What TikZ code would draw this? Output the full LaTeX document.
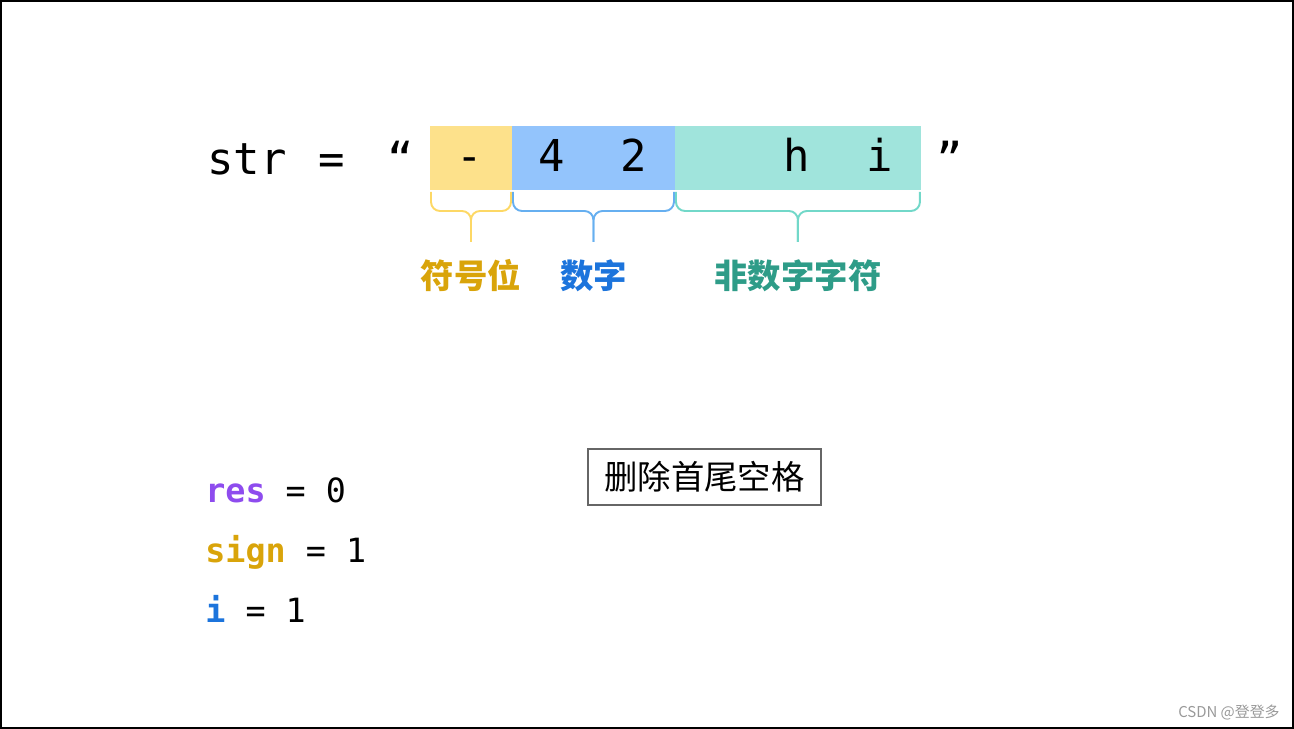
\documentclass[tikz,border=0pt]{standalone}
\usepackage{fontspec}
\setmainfont{Noto Sans CJK SC}
\setmonofont{DejaVu Sans Mono}
\usepackage{tikz}
\usetikzlibrary{positioning, calc}
\definecolor{signfill}{HTML}{FDE18B}
\definecolor{digitfill}{HTML}{93C4FC}
\definecolor{charfill}{HTML}{A0E4DC}
\definecolor{signline}{HTML}{FDD865}
\definecolor{digitline}{HTML}{66AFF0}
\definecolor{charline}{HTML}{72D8C9}
\definecolor{signtext}{HTML}{D9A40A}
\definecolor{digittext}{HTML}{1C74DC}
\definecolor{chartext}{HTML}{2E9C88}
\definecolor{restext}{HTML}{8E4CEE}
\tikzstyle{brace} = [
  line width=1.1pt, rounded corners=0.18cm
]

\begin{document}
\begin{tikzpicture}[
  x=0.02cm, y=-0.02cm,
  every node/.style={inner sep=0pt},
  cell/.style={rectangle, outer sep=0pt, minimum height=1.28cm},
  strchar/.style={anchor=base, font=\fontsize{25}{30}\selectfont\ttfamily},
  label/.style={font=\fontsize{19}{23}\selectfont\bfseries},
  var/.style={anchor=base west, font=\fontsize{19}{23}\selectfont\ttfamily},
  tag/.style={rectangle, draw=black!60, line width=0.85pt,
              minimum width=4.66cm, minimum height=1.12cm,
              font=\fontsize{19}{23}\selectfont},
]
  \useasboundingbox (0,0) rectangle (1294,729);
  \draw[line width=1.1pt] (1,1) rectangle (1293,728);

  % the string and its parts
  \node[strchar, anchor=base west] (str) at (207,175) {str};
  \node[strchar] (eq) at (332,175) {=};
  \node[strchar] (lq) at (401,175) {“};
  \node[cell, fill=signfill, minimum width=1.64cm] (sgnbox) at (471,158) {};
  \node[cell, fill=digitfill, minimum width=3.26cm, right=0cm of sgnbox] (digbox) {};
  \node[cell, fill=charfill, minimum width=4.92cm, right=0cm of digbox] (chrbox) {};
  \node[strchar] (rq) at (950,175) {”};
  \foreach \x/\ch [count=\i] in {470/-, 552/4, 634/2, 797/h, 880/i}
    \node[strchar] (c\i) at (\x,172) {\ch};

  % labels
  \node[label, text=signtext, below=1.38cm of sgnbox] (sgnlbl) {符号位};
  \node[label, text=digittext, below=1.38cm of digbox] (diglbl) {数字};
  \node[label, text=chartext, below=1.38cm of chrbox] (chrlbl) {非数字字符};

  \foreach \b/\c in {sgnbox/signline, digbox/digitline, chrbox/charline} {
    \draw[brace, \c] ([shift={(1,2)}]\b.south west) -- ([shift={(1,21)}]\b.south west)
      -- ($(\b.south)+(0,21)$) -- ($(\b.south)+(0,52)$);
    \draw[brace, \c] ([shift={(-1,2)}]\b.south east) -- ([shift={(-1,21)}]\b.south east)
      -- ($(\b.south)+(0,21)$) -- ($(\b.south)+(0,52)$);
  }

  % variables
  \node[var] (res) at (205,502) {\textcolor{restext}{\bfseries res} = 0};
  \node[var] (sign) at (205,562) {\textcolor{signtext}{\bfseries sign} = 1};
  \node[var] (idx) at (205,622) {\textcolor{digittext}{\bfseries i} = 1};

  \node[tag] (trim) at (704.5,477) {删除首尾空格};

  \node[anchor=east, text=black!40, font=\fontsize{8.5}{10}\selectfont] (mark) at (1280,712) {CSDN @登登多};
\end{tikzpicture}
\end{document}
